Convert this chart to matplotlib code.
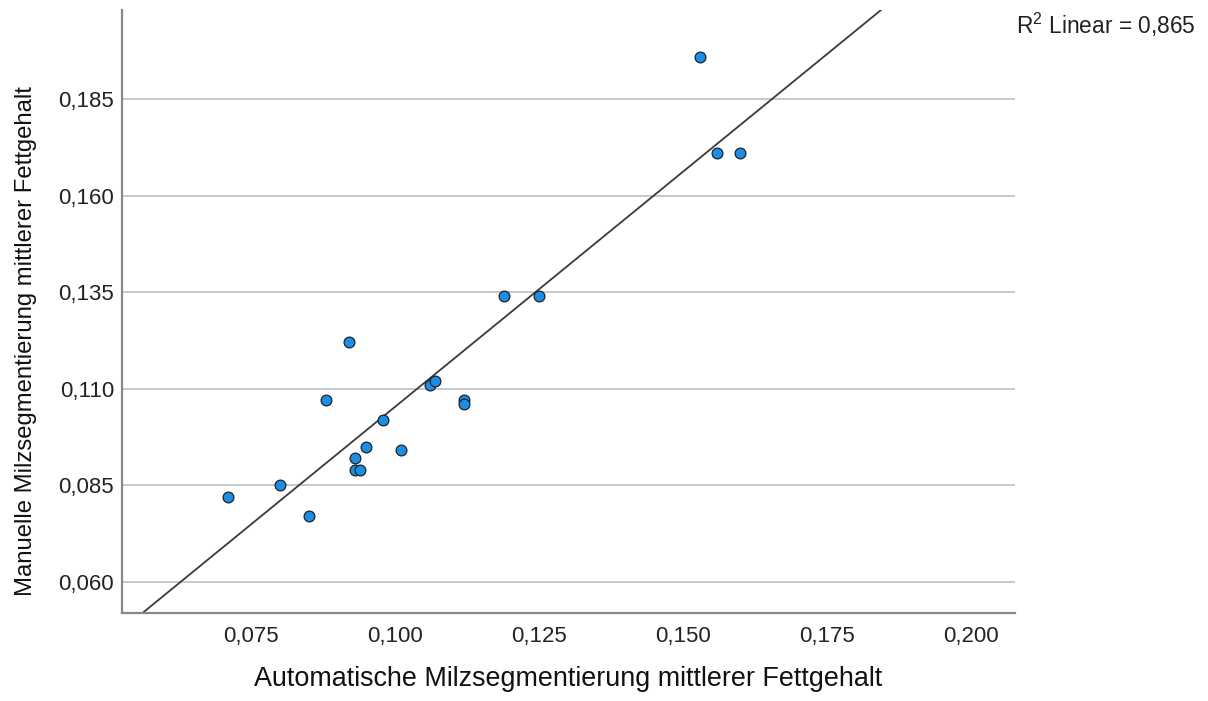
import numpy as np
import matplotlib
matplotlib.use("Agg")
import matplotlib.pyplot as plt
from matplotlib.ticker import FixedLocator, FuncFormatter

plt.rcParams['font.family'] = ['Liberation Sans', 'DejaVu Sans']
plt.rcParams['mathtext.fontset'] = 'custom'
plt.rcParams['mathtext.rm'] = 'Liberation Sans'
plt.rcParams['mathtext.it'] = 'Liberation Sans'

# Mean fat content: automatic vs manual spleen segmentation
auto_fat = [0.071, 0.080, 0.085, 0.088, 0.092, 0.093, 0.093, 0.094, 0.095, 0.098,
            0.101, 0.106, 0.107, 0.112, 0.112, 0.119, 0.125, 0.153, 0.156, 0.160]
manual_fat = [0.082, 0.085, 0.077, 0.107, 0.122, 0.092, 0.089, 0.089, 0.095, 0.102,
              0.094, 0.111, 0.112, 0.107, 0.106, 0.134, 0.134, 0.196, 0.171, 0.171]

x_ticks = [0.075, 0.100, 0.125, 0.150, 0.175, 0.200]
y_ticks = [0.060, 0.085, 0.110, 0.135, 0.160, 0.185]
r2_text = "0,865"

x_label = "Automatische Milzsegmentierung mittlerer Fettgehalt"
y_label = "Manuelle Milzsegmentierung mittlerer Fettgehalt"

fig = plt.figure(figsize=(12.08, 7.01), dpi=100)
ax = fig.add_axes([0.1006, 0.1255, 0.7396, 0.860])

xlim = (0.0525, 0.2077)
ylim = (0.0519, 0.2080)
ax.set_xlim(*xlim)
ax.set_ylim(*ylim)

ax.yaxis.grid(True, color='#c8c8c8', linewidth=1.4)
ax.set_axisbelow(True)

# least-squares fit line over the full x range
slope, intercept = np.polyfit(auto_fat, manual_fat, 1)
xs = np.array(xlim)
ax.plot(xs, slope * xs + intercept, color='#3a3a3a', linewidth=1.3, zorder=2)

ax.scatter(auto_fat, manual_fat, s=60, color='#1a8ee6', edgecolors='#222222',
           linewidths=0.9, zorder=3)

comma = FuncFormatter(lambda v, p: f"{v:.3f}".replace('.', ','))
ax.xaxis.set_major_locator(FixedLocator(x_ticks))
ax.yaxis.set_major_locator(FixedLocator(y_ticks))
ax.xaxis.set_major_formatter(comma)
ax.yaxis.set_major_formatter(comma)
ax.tick_params(axis='both', length=0, labelsize=16, colors='#222222')
ax.tick_params(axis='x', pad=9)
ax.tick_params(axis='y', pad=5.5)

for side in ('top', 'right'):
    ax.spines[side].set_visible(False)
for side in ('left', 'bottom'):
    ax.spines[side].set_color('#888888')
    ax.spines[side].set_linewidth(1.6)

fig.text(568 / 1208, 1 - 679 / 701, x_label, ha='center', va='center',
         fontsize=19.4, color='#111111')
fig.text(26 / 1208, 1 - 341 / 701, y_label, ha='center', va='center',
         rotation=90, fontsize=17.2, color='#111111')

fig.text(1016 / 1208, 1 - 34.3 / 701, "R$^{2}$ Linear = " + r2_text,
         ha='left', va='baseline', fontsize=16.4, color='#222222')

fig.savefig("out.png", dpi=100, facecolor='white')
